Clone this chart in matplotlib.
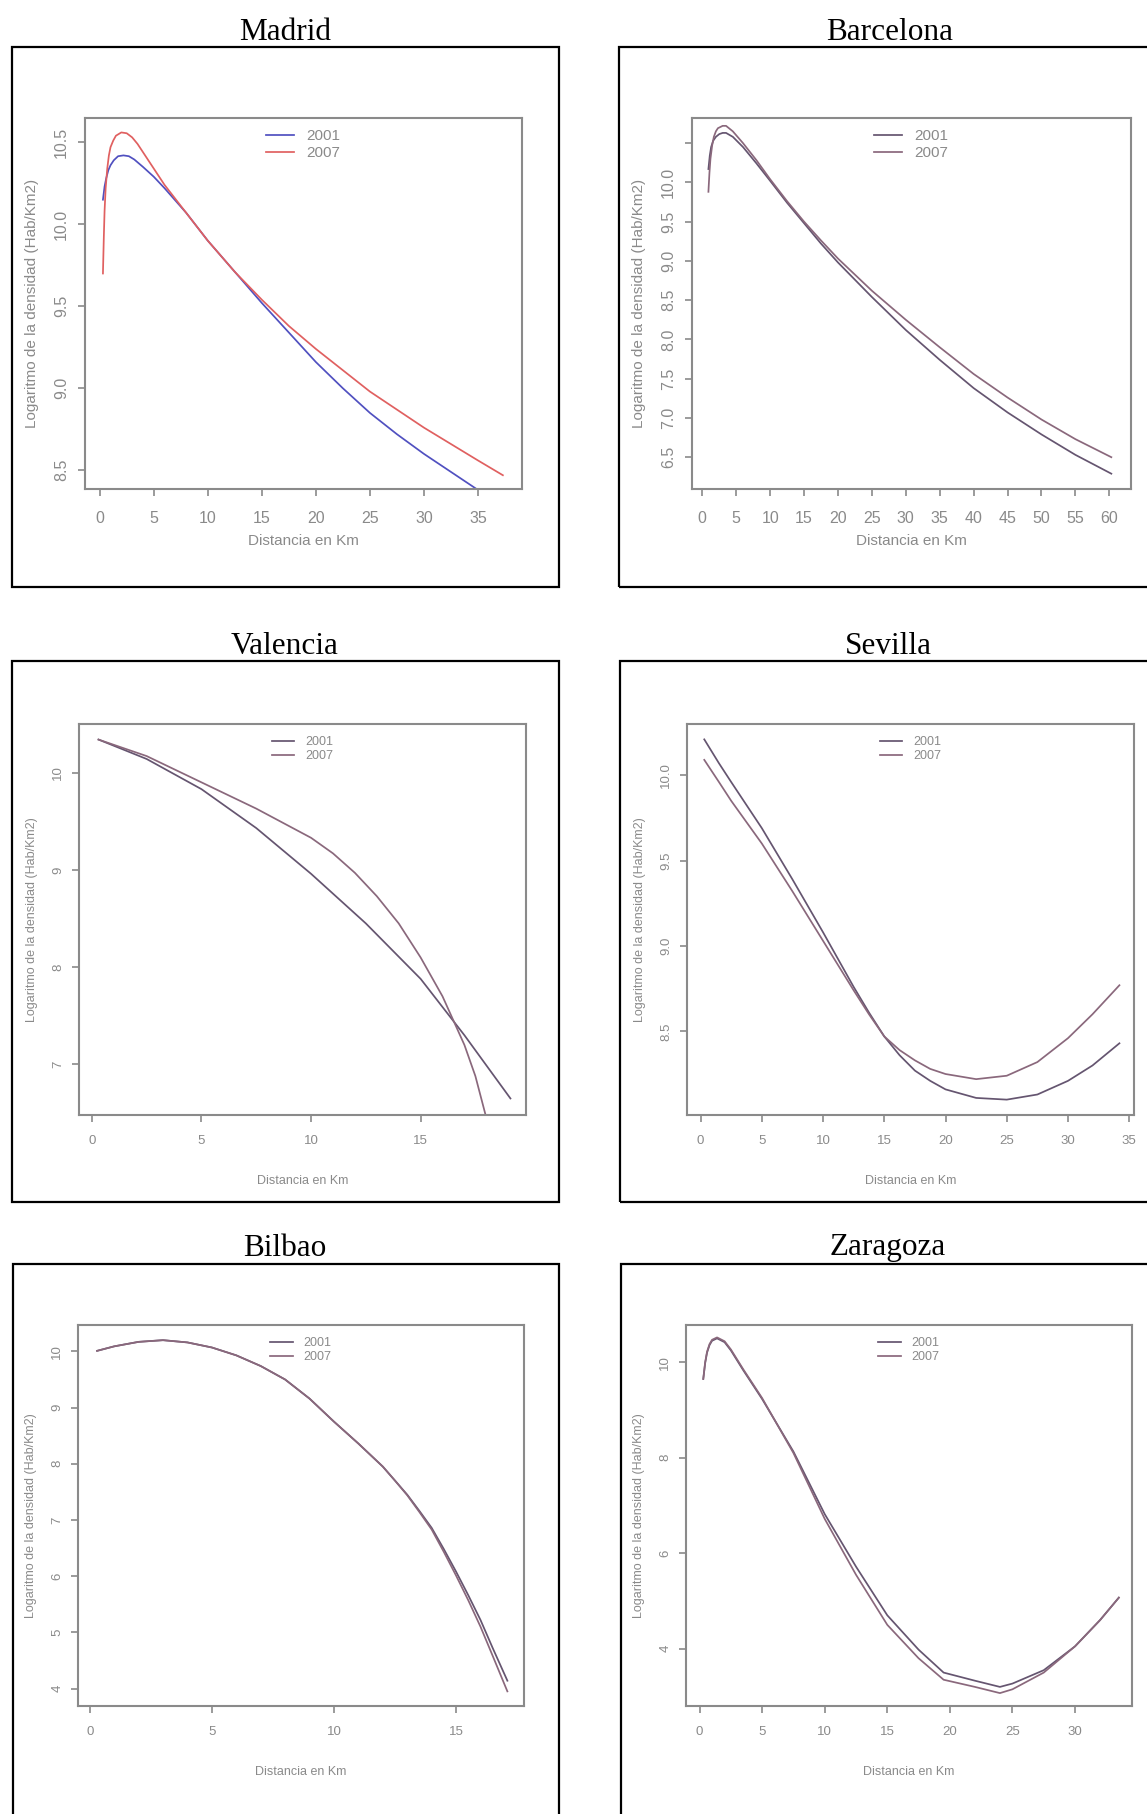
import matplotlib
matplotlib.use("Agg")
import matplotlib.pyplot as plt
from matplotlib.patches import Rectangle

# --------------- Data ---------------
madrid_x01 = [0.3, 0.45, 0.6, 0.8, 1.0, 1.3, 1.7, 2.2, 2.7, 3.2, 4.0, 5.0, 6.0, 8.0, 10.0, 12.5, 15.0, 17.5, 20.0, 22.5, 25.0, 27.5, 30.0, 32.5, 35.0]
madrid_y01 = [10.15, 10.23, 10.28, 10.33, 10.36, 10.39, 10.415, 10.42, 10.415, 10.395, 10.35, 10.29, 10.22, 10.07, 9.90, 9.71, 9.52, 9.34, 9.16, 9.00, 8.85, 8.72, 8.60, 8.49, 8.38]
madrid_x07 = [0.3, 0.38, 0.45, 0.55, 0.7, 0.85, 1.0, 1.25, 1.5, 2.0, 2.5, 3.0, 3.5, 4.0, 5.0, 6.0, 8.0, 10.0, 12.5, 15.0, 17.5, 20.0, 22.5, 25.0, 27.5, 30.0, 32.5, 35.0, 37.3]
madrid_y07 = [9.70, 9.92, 10.08, 10.22, 10.34, 10.42, 10.47, 10.51, 10.54, 10.56, 10.555, 10.53, 10.49, 10.44, 10.34, 10.24, 10.07, 9.90, 9.71, 9.54, 9.38, 9.24, 9.11, 8.98, 8.87, 8.76, 8.66, 8.56, 8.47]

barcelona_x01 = [0.9, 1.1, 1.3, 1.6, 2.0, 2.5, 3.0, 3.5, 4.5, 6.0, 8.0, 10.0, 12.5, 15.0, 17.5, 20.0, 25.0, 30.0, 35.0, 40.0, 45.0, 50.0, 55.0, 60.3]
barcelona_y01 = [10.17, 10.34, 10.45, 10.53, 10.58, 10.615, 10.63, 10.63, 10.58, 10.45, 10.24, 10.02, 9.74, 9.48, 9.22, 8.98, 8.54, 8.12, 7.74, 7.38, 7.07, 6.79, 6.53, 6.29]
barcelona_x07 = [0.9, 1.05, 1.2, 1.45, 1.7, 2.0, 2.3, 3.0, 3.5, 4.5, 6.0, 8.0, 10.0, 12.5, 15.0, 17.5, 20.0, 25.0, 30.0, 35.0, 40.0, 45.0, 50.0, 55.0, 60.3]
barcelona_y07 = [9.88, 10.12, 10.30, 10.47, 10.58, 10.65, 10.69, 10.72, 10.72, 10.65, 10.50, 10.28, 10.04, 9.76, 9.50, 9.26, 9.03, 8.62, 8.25, 7.90, 7.56, 7.26, 6.98, 6.73, 6.50]

valencia_x01 = [0.3, 2.5, 5.0, 7.5, 10.0, 12.5, 15.0, 17.0, 19.1]
valencia_y01 = [10.34, 10.14, 9.83, 9.43, 8.96, 8.45, 7.88, 7.30, 6.65]
valencia_x07 = [0.3, 2.5, 5.0, 7.5, 10.0, 11.0, 12.0, 13.0, 14.0, 15.0, 16.0, 17.0, 17.5, 18.0]
valencia_y07 = [10.34, 10.17, 9.90, 9.63, 9.33, 9.17, 8.97, 8.73, 8.45, 8.10, 7.70, 7.20, 6.88, 6.45]

sevilla_x = [0.3, 1.5, 2.5, 5.0, 7.5, 10.0, 12.5, 13.75, 15.0, 16.25, 17.5, 18.75, 20.0, 22.5, 25.0, 27.5, 30.0, 32.0, 34.2]
sevilla_y01 = [10.21, 10.07, 9.96, 9.69, 9.39, 9.08, 8.76, 8.61, 8.47, 8.36, 8.27, 8.21, 8.16, 8.11, 8.10, 8.13, 8.21, 8.30, 8.43]
sevilla_y07 = [10.09, 9.96, 9.85, 9.60, 9.32, 9.03, 8.74, 8.60, 8.47, 8.39, 8.33, 8.28, 8.25, 8.22, 8.24, 8.32, 8.46, 8.60, 8.77]

bilbao_x = [0.3, 1.0, 2.0, 3.0, 4.0, 5.0, 6.0, 7.0, 8.0, 9.0, 10.0, 11.0, 12.0, 12.5, 13.0, 13.5, 14.0, 14.5, 15.0, 15.5, 16.0, 16.5, 17.1]
bilbao_y01 = [10.01, 10.09, 10.17, 10.20, 10.16, 10.07, 9.93, 9.74, 9.50, 9.16, 8.75, 8.36, 7.95, 7.70, 7.45, 7.16, 6.86, 6.48, 6.08, 5.66, 5.22, 4.72, 4.14]
bilbao_y07 = [10.01, 10.09, 10.17, 10.20, 10.16, 10.07, 9.93, 9.74, 9.50, 9.16, 8.75, 8.36, 7.95, 7.70, 7.44, 7.14, 6.83, 6.43, 6.01, 5.57, 5.10, 4.58, 3.95]

zaragoza_x = [0.3, 0.45, 0.6, 0.8, 1.0, 1.4, 2.0, 2.5, 3.5, 5.0, 7.5, 10.0, 12.5, 15.0, 17.5, 19.5, 22.0, 24.0, 25.0, 27.5, 30.0, 32.0, 33.5]
zaragoza_y01 = [9.65, 9.98, 10.20, 10.36, 10.45, 10.50, 10.42, 10.25, 9.83, 9.23, 8.13, 6.82, 5.72, 4.70, 3.98, 3.50, 3.33, 3.20, 3.27, 3.55, 4.05, 4.60, 5.07]
zaragoza_y07 = [9.65, 10.00, 10.22, 10.38, 10.47, 10.52, 10.44, 10.27, 9.85, 9.25, 8.10, 6.72, 5.55, 4.50, 3.80, 3.35, 3.20, 3.07, 3.15, 3.50, 4.05, 4.60, 5.07]

years = ["2001", "2007"]

# --------------- Layout (pixels) ---------------
W, H = 1147, 1814
fig = plt.figure(figsize=(W / 100, H / 100), dpi=100)
fig.patch.set_facecolor("white")

GREY = "#8a8a8a"
SANS = ["Liberation Sans", "DejaVu Sans"]
SERIF = ["Liberation Serif", "DejaVu Serif"]
DULL = ["#655570", "#8a687c"]


def px_axes(l, t, r, b):
    return fig.add_axes([l / W, 1 - b / H, (r - l) / W, (b - t) / H])


def outer_box(l, t, r, b):
    fig.patches.append(Rectangle((l / W, 1 - b / H), (r - l) / W, (b - t) / H,
                                 transform=fig.transFigure, fill=False,
                                 edgecolor="black", linewidth=1.6))


big = dict(fs=11.5, lfs=11, xtpad=10.5, ytpad=6.5, xpad=6, ypad=11, legpad=0.35)
small = dict(fs=9.5, lfs=9, xtpad=9.5, ytpad=5.5, xpad=20, ypad=10.5, legpad=0.55)

panels = [
    dict(name="Madrid", outer=(12, 47, 559, 587), inner=(85, 118, 522, 489), tc=(285, 32),
         series=[(madrid_x01, madrid_y01), (madrid_x07, madrid_y07)],
         xlim=(-1.36, 39.07), ylim=(8.386, 10.648),
         xticks=[0, 5, 10, 15, 20, 25, 30, 35], yticks=[8.5, 9.0, 9.5, 10.0, 10.5],
         ylabels=["8.5", "9.0", "9.5", "10.0", "10.5"],
         colors=["#5050c0", "#e06060"], **big),
    dict(name="Barcelona", outer=(619, 47, 1152, 587), inner=(692, 118, 1131, 489), tc=(890, 32),
         series=[(barcelona_x01, barcelona_y01), (barcelona_x07, barcelona_y07)],
         xlim=(-1.52, 63.2), ylim=(6.095, 10.82),
         xticks=list(range(0, 61, 5)), yticks=[6.5, 7.0, 7.5, 8.0, 8.5, 9.0, 9.5, 10.0, 10.5],
         ylabels=["6.5", "7.0", "7.5", "8.0", "8.5", "9.0", "9.5", "10.0", ""],
         colors=DULL, **big),
    dict(name="Valencia", outer=(12, 661, 559, 1202), inner=(79, 724, 526, 1115), tc=(285, 646),
         series=[(valencia_x01, valencia_y01), (valencia_x07, valencia_y07)],
         xlim=(-0.59, 19.81), ylim=(6.48, 10.50),
         xticks=[0, 5, 10, 15], yticks=[7, 8, 9, 10], ylabels=["7", "8", "9", "10"],
         colors=DULL, **small),
    dict(name="Sevilla", outer=(620, 661, 1152, 1202), inner=(687, 724, 1134, 1115), tc=(888, 646),
         series=[(sevilla_x, sevilla_y01), (sevilla_x, sevilla_y07)],
         xlim=(-1.11, 35.39), ylim=(8.01, 10.30),
         xticks=[0, 5, 10, 15, 20, 25, 30, 35], yticks=[8.5, 9.0, 9.5, 10.0],
         ylabels=["8.5", "9.0", "9.5", "10.0"],
         colors=DULL, **small),
    dict(name="Bilbao", outer=(13, 1264, 559, 1820), inner=(78, 1325, 524, 1706), tc=(285, 1248),
         series=[(bilbao_x, bilbao_y01), (bilbao_x, bilbao_y07)],
         xlim=(-0.48, 17.78), ylim=(3.69, 10.47),
         xticks=[0, 5, 10, 15], yticks=[4, 5, 6, 7, 8, 9, 10],
         ylabels=["4", "5", "6", "7", "8", "9", "10"],
         colors=DULL, **small),
    dict(name="Zaragoza", outer=(621, 1264, 1152, 1820), inner=(686, 1325, 1132, 1706), tc=(888, 1248),
         series=[(zaragoza_x, zaragoza_y01), (zaragoza_x, zaragoza_y07)],
         xlim=(-1.08, 34.55), ylim=(2.80, 10.78),
         xticks=[0, 5, 10, 15, 20, 25, 30], yticks=[4, 6, 8, 10], ylabels=["4", "6", "8", "10"],
         colors=DULL, **small),
]

for p in panels:
    outer_box(*p["outer"])
    fig.text(p["tc"][0] / W, 1 - p["tc"][1] / H, p["name"], ha="center", va="center",
             fontsize=22.5, family=SERIF, color="black")

    ax = px_axes(*p["inner"])
    for (xs, ys), col, yr in zip(p["series"], p["colors"], years):
        ax.plot(xs, ys, color=col, linewidth=1.25, label=yr)
    ax.set_xlim(*p["xlim"])
    ax.set_ylim(*p["ylim"])
    ax.set_xticks(p["xticks"])
    ax.set_yticks(p["yticks"])
    ax.set_yticklabels(p["ylabels"], rotation=90, va="center")
    fs = p["fs"]
    ax.tick_params(direction="out", length=5, width=1.2, color=GREY, labelcolor=GREY,
                   labelsize=fs)
    ax.tick_params(axis="x", pad=p["xtpad"])
    ax.tick_params(axis="y", pad=p["ytpad"])
    for t in ax.get_xticklabels() + ax.get_yticklabels():
        t.set_family(SANS)
    for s in ax.spines.values():
        s.set_color(GREY)
        s.set_linewidth(1.5)
    ax.set_xlabel("Distancia en Km", fontsize=p["lfs"], color=GREY, family=SANS,
                  labelpad=p["xpad"])
    ax.set_ylabel("Logaritmo de la densidad (Hab/Km2)", fontsize=p["lfs"], color=GREY,
                  family=SANS, labelpad=p["ypad"])
    leg = ax.legend(loc="upper center", frameon=False, fontsize=p["lfs"], handlelength=1.8,
                    handletextpad=0.85, labelspacing=0.18, borderaxespad=p["legpad"])
    for t in leg.get_texts():
        t.set_color(GREY)
        t.set_family(SANS)

fig.savefig("out.png", dpi=100, facecolor="white")
